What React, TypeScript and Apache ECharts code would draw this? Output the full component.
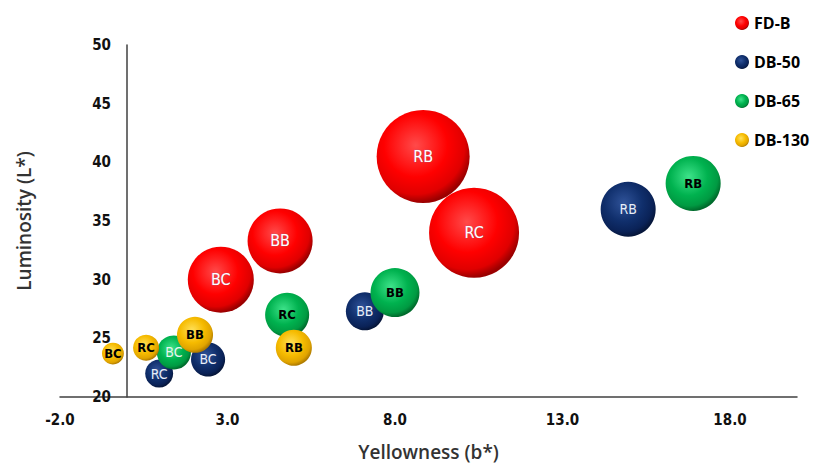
import React, { useEffect, useRef } from "react";
import * as echarts from "echarts";

// Series names
const seriesNames = ["FD-B", "DB-50", "DB-65", "DB-130"];

// FD-B
const fdbLabels = ["BC", "BB", "RB", "RC"];
const fdbX = [2.8, 4.57, 8.84, 10.36];
const fdbY = [30.0, 33.3, 40.5, 34.0];
const fdbSize = [43.6, 42.3, 86.5, 81.0];

// DB-50
const db50Labels = ["RC", "BC", "BB", "RB"];
const db50X = [0.96, 2.42, 7.1, 14.96];
const db50Y = [22.0, 23.2, 27.3, 36.0];
const db50Size = [7.8, 11.6, 14.4, 30.3];

// DB-65
const db65Labels = ["BC", "RC", "BB", "RB"];
const db65X = [1.4, 4.78, 8.0, 16.9];
const db65Y = [23.8, 27.0, 28.9, 38.2];
const db65Size = [11.6, 19.4, 24.0, 30.3];

// DB-130
const db130Labels = ["BC", "RC", "BB", "RB"];
const db130X = [-0.42, 0.57, 2.03, 4.98];
const db130Y = [23.7, 24.2, 25.3, 24.2];
const db130Size = [4.8, 6.8, 13.0, 13.0];

const xTicks = [-2, 3, 8, 13, 18];
const yTicks = [20, 25, 30, 35, 40, 45, 50];

const narrow = "'Liberation Sans Narrow', 'DejaVu Sans Condensed', 'Liberation Sans', Arial, sans-serif";

function sphere(c0: string, c1: string, c2: string, c3: string) {
  return new echarts.graphic.RadialGradient(0.42, 0.38, 0.62, [
    { offset: 0, color: c0 },
    { offset: 0.55, color: c1 },
    { offset: 0.85, color: c2 },
    { offset: 1, color: c3 },
  ]);
}

const fills = [
  sphere("#ff4a4a", "#ff0000", "#e00000", "#9a0000"),
  sphere("#2f5298", "#102f6c", "#0a2257", "#06163a"),
  sphere("#3ee38a", "#00b24f", "#009a42", "#006b2c"),
  sphere("#ffe15a", "#f6bb00", "#e0a400", "#b07c00"),
];

const labelStyles: Record<string, any>[] = [
  { color: "#ffffff", fontSize: 16, fontWeight: "normal", textBorderColor: "rgba(90,120,200,0.5)", textBorderWidth: 0.6 },
  { color: "#e8eef8", fontSize: 14, fontWeight: "normal" },
  { color: "#000000", fontSize: 13, fontWeight: "bold" },
  { color: "#000000", fontSize: 13, fontWeight: "bold" },
];

function build(
  idx: number,
  xs: number[],
  ys: number[],
  sizes: number[],
  labels: string[]
) {
  return xs.map((x, i) => {
    const item: any = { value: [x, ys[i], sizes[i]], name: labels[i] };
    if (idx === 2 && labels[i] === "BC") {
      item.label = { color: "#e8f5ee", fontWeight: "normal", fontSize: 14 };
    }
    return item;
  });
}

export default function App() {
  const ref = useRef<HTMLDivElement>(null);

  useEffect(() => {
    if (!ref.current) return;
    const chart = echarts.init(ref.current, null, { renderer: "svg" });
    const groups = [
      build(0, fdbX, fdbY, fdbSize, fdbLabels),
      build(1, db50X, db50Y, db50Size, db50Labels),
      build(2, db65X, db65Y, db65Size, db65Labels),
      build(3, db130X, db130Y, db130Size, db130Labels),
    ];
    chart.setOption({
      animation: false,
      backgroundColor: "#ffffff",
      grid: { left: 60, right: 18, top: 45, bottom: 67, containLabel: false, outerBoundsMode: "none" },
      legend: {
        orient: "vertical",
        left: 730,
        top: 10,
        itemGap: 23,
        itemWidth: 14,
        itemHeight: 14,
        icon: "circle",
        textStyle: { fontFamily: "'Open Sans', Lato, sans-serif", fontWeight: "bold", fontSize: 16, color: "#000", lineHeight: 16 },
        data: seriesNames,
      },
      xAxis: {
        type: "value",
        min: -2,
        max: 20,
        interval: 5,
        axisLine: { onZero: false, lineStyle: { color: "#404040", width: 1.5 } },
        axisTick: { show: false },
        splitLine: { show: false },
        axisLabel: {
          margin: 15,
          fontFamily: narrow,
          fontWeight: "bold",
          fontSize: 15,
          color: "#111",
          showMaxLabel: false,
          formatter: (v: number) => (xTicks.includes(v) ? v.toFixed(1) : ""),
        },
        name: "Yellowness (b*)",
        nameLocation: "middle",
        nameGap: 45,
        nameTextStyle: { fontFamily: "'Open Sans', sans-serif", fontWeight: 600, fontSize: 19, color: "#333" },
      },
      yAxis: {
        type: "value",
        min: 20,
        max: 50,
        interval: 5,
        axisLine: { show: true, onZero: true, lineStyle: { color: "#404040", width: 1.5 } },
        axisTick: { show: false },
        splitLine: { show: false },
        axisLabel: {
          margin: -51,
          fontFamily: narrow,
          fontWeight: "bold",
          fontSize: 15,
          color: "#111",
          formatter: (v: number) => (yTicks.includes(v) ? String(v) : ""),
        },
        name: "Luminosity (L*)",
        nameLocation: "middle",
        nameGap: 27,
        nameRotate: 90,
        nameTextStyle: { fontFamily: "'Open Sans', sans-serif", fontWeight: 600, fontSize: 19, color: "#333" },
      },
      series: groups.map((data, i) => ({
        name: seriesNames[i],
        type: "scatter",
        data,
        symbol: "circle",
        symbolSize: (v: number[]) => 10 * Math.sqrt(v[2]),
        itemStyle: { color: fills[i], opacity: 1 },
        label: {
          show: true,
          position: "inside",
          formatter: (p: any) => p.name,
          fontFamily: narrow,
          ...labelStyles[i],
        },
        emphasis: { disabled: true },
      })),
    });
    return () => chart.dispose();
  }, []);

  return <div ref={ref} style={{ position: "fixed", left: 0, top: 0, width: 815, height: 464 }} />;
}
